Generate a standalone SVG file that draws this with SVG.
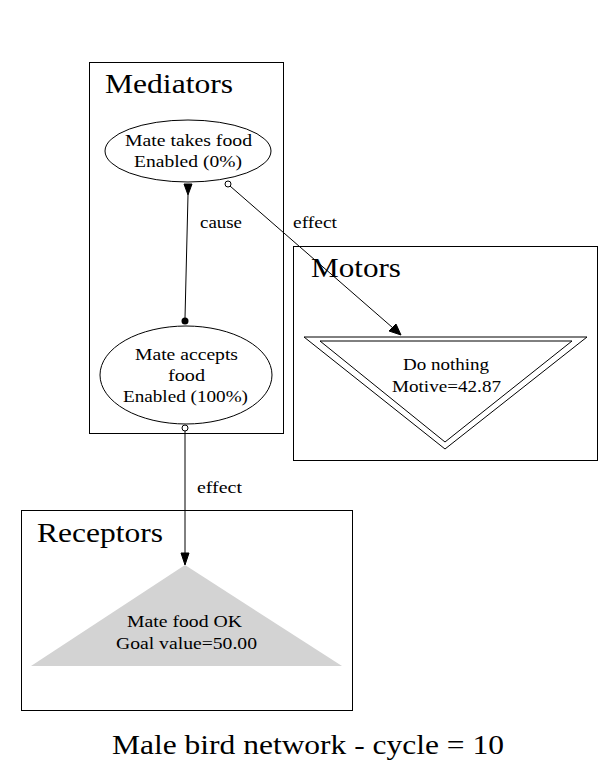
<svg xmlns="http://www.w3.org/2000/svg" width="616" height="774" viewBox="0 0 616 774">
<style>
.box{fill:none;stroke:#000;stroke-width:1}
.t{font-family:"Liberation Serif","Times New Roman",serif;fill:#000}
.big{font-size:28px}
.n{font-size:17px}
.lbl{font-size:16px}
.e{fill:none;stroke:#000;stroke-width:1}
</style>
<rect width="616" height="774" fill="#fff"/>
<g id="Mediators">
<rect class="box" x="89.5" y="62.5" width="194" height="371"/>
<text class="t big" x="105" y="93" textLength="128" lengthAdjust="spacingAndGlyphs">Mediators</text>
</g>
<g id="Motors">
<rect class="box" x="293.5" y="246.5" width="304" height="214"/>
<text class="t big" x="311" y="277" textLength="90" lengthAdjust="spacingAndGlyphs">Motors</text>
</g>
<g id="Receptors">
<rect class="box" x="21.5" y="510.5" width="331" height="200"/>
<text class="t big" x="37" y="542" textLength="126" lengthAdjust="spacingAndGlyphs">Receptors</text>
</g>
<g id="mate_takes_food">
<ellipse class="e" cx="188" cy="151" rx="83" ry="31"/>
<text class="t n" x="125" y="146" textLength="127" lengthAdjust="spacingAndGlyphs">Mate takes food</text>
<text class="t n" x="134" y="167" textLength="108" lengthAdjust="spacingAndGlyphs">Enabled (0%)</text>
</g>
<g id="mate_accepts_food">
<ellipse class="e" cx="186" cy="375" rx="86" ry="49"/>
<text class="t n" x="135" y="360" textLength="103" lengthAdjust="spacingAndGlyphs">Mate accepts</text>
<text class="t n" x="168" y="381" textLength="37" lengthAdjust="spacingAndGlyphs">food</text>
<text class="t n" x="123" y="402" textLength="125" lengthAdjust="spacingAndGlyphs">Enabled (100%)</text>
</g>
<g id="do_nothing">
<polygon class="e" points="304,337 587,337 445,449"/>
<polygon class="e" points="320,341 572,341 445,442"/>
<text class="t n" x="403" y="370" textLength="86" lengthAdjust="spacingAndGlyphs">Do nothing</text>
<text class="t n" x="392" y="392" textLength="109" lengthAdjust="spacingAndGlyphs">Motive=42.87</text>
</g>
<g id="mate_food_ok">
<polygon points="185,565 342,666 31,666" fill="#d3d3d3"/>
<text class="t n" x="127" y="627" textLength="115" lengthAdjust="spacingAndGlyphs">Mate food OK</text>
<text class="t n" x="116" y="649" textLength="141" lengthAdjust="spacingAndGlyphs">Goal value=50.00</text>
</g>
<g id="connectors">
<line class="e" x1="188" y1="195" x2="185" y2="318"/>
<polygon points="184,184 192,184 188,195" fill="#000" stroke="#000"/>
<circle cx="185" cy="321" r="3.5" fill="#000"/>
<text class="t lbl" x="200" y="228" textLength="42" lengthAdjust="spacingAndGlyphs">cause</text>
<circle cx="228" cy="184" r="3" fill="#fff" stroke="#000"/>
<line class="e" x1="230" y1="186" x2="393" y2="328"/>
<polygon points="389,331 396,324 401,335" fill="#000" stroke="#000"/>
<text class="t lbl" x="293" y="228" textLength="44" lengthAdjust="spacingAndGlyphs">effect</text>
<circle cx="185" cy="428" r="3" fill="#fff" stroke="#000"/>
<line class="e" x1="185" y1="431" x2="185" y2="554"/>
<polygon points="181,553 189,553 185,565" fill="#000" stroke="#000"/>
<text class="t lbl" x="197" y="493" textLength="45" lengthAdjust="spacingAndGlyphs">effect</text>
</g>
<text class="t big" x="112" y="754" textLength="392" lengthAdjust="spacingAndGlyphs">Male bird network - cycle = 10</text>
</svg>
